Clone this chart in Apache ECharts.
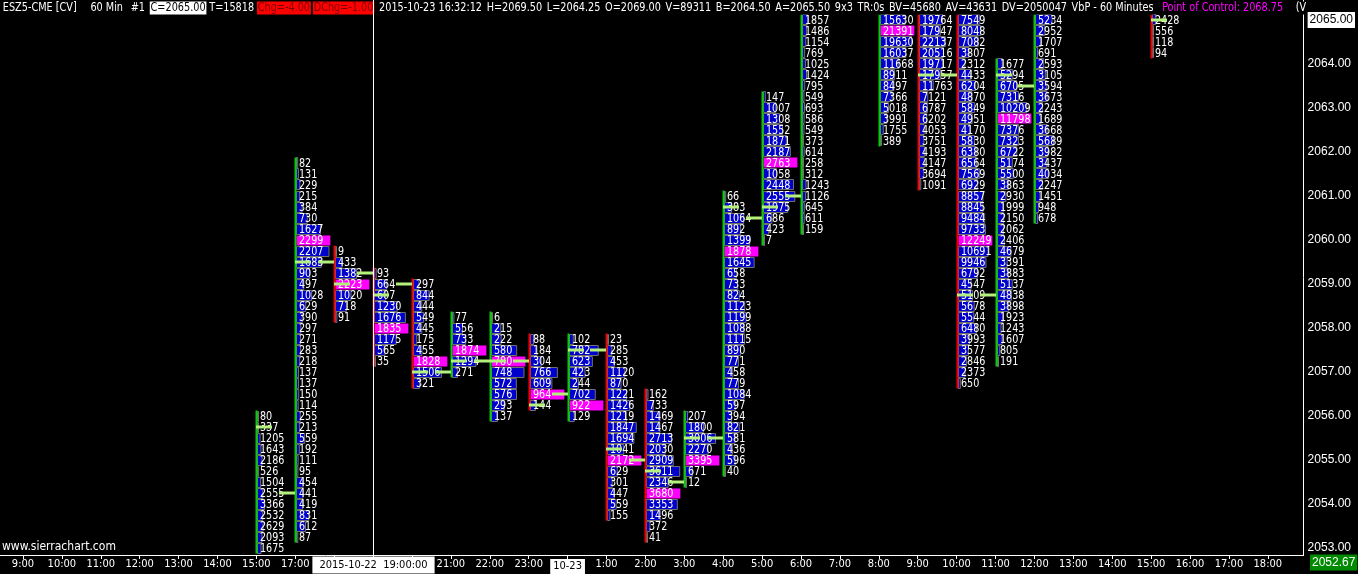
<!DOCTYPE html>
<html>
<head>
<meta charset="utf-8">
<title>ESZ5-CME VbP 60 Min</title>
<script src="https://cdn.jsdelivr.net/npm/echarts@6/dist/echarts.min.js"></script>
<style>
  html, body { margin: 0; padding: 0; background: #000; }
  #chart { width: 1358px; height: 574px; }
</style>
</head>
<body>
<div id="chart"></div>
<script>
// price step of one volume row
const TICK = 0.25

// x axis: one slot per 60 min bar
const slotLabels = ['9:00', '10:00', '11:00', '12:00', '13:00', '14:00', '15:00', '17:00', '18:00', '19:00', '20:00',
  '21:00', '22:00', '23:00', '10-23', '1:00', '2:00', '3:00', '4:00', '5:00', '6:00', '7:00', '8:00', '9:00', '10:00',
  '11:00', '12:00', '13:00', '14:00', '15:00', '16:00', '17:00', '18:00']
const priceTicks = [2053, 2054, 2055, 2056, 2057, 2058, 2059, 2060, 2061, 2062, 2063, 2064, 2065]

// volume at price, top row first
const vol15a = [80, 337, 1205, 1643, 2186, 526, 1504, 2555, 3366, 2532, 2629, 2093, 1675]
const vol17 = [82, 131, 229, 215, 384, 730, 1627, 2299, 2207, 1683, 903, 497, 1028, 629, 390, 297, 271, 283, 218, 137,
  137, 150, 114, 255, 213, 559, 192, 111, 95, 454, 441, 419, 831, 612, 87]
const vol18 = [9, 433, 1382, 2223, 1020, 718, 91]
const vol19 = [93, 664, 607, 1230, 1676, 1835, 1175, 565, 35]
const vol20 = [297, 844, 444, 549, 445, 175, 455, 1828, 1506, 321]
const vol21 = [77, 556, 733, 1874, 1294, 271]
const vol22 = [6, 215, 222, 580, 780, 748, 572, 576, 293, 137]
const vol23 = [88, 184, 304, 766, 609, 964, 144]
const vol00 = [102, 782, 623, 423, 244, 702, 922, 129]
const vol01 = [23, 285, 453, 1120, 870, 1221, 1426, 1219, 1847, 1694, 1041, 2172, 629, 301, 447, 559, 155]
const vol02 = [162, 733, 1469, 1467, 2713, 2030, 2909, 3611, 2346, 3680, 3353, 1496, 372, 41]
const vol03 = [207, 1800, 3006, 2270, 3395, 671, 12]
const vol04 = [66, 383, 1064, 892, 1399, 1878, 1645, 658, 733, 824, 1123, 1199, 1088, 1115, 890, 771, 458, 779, 1084,
  597, 394, 821, 581, 436, 596, 40]
const vol05 = [147, 1007, 1308, 1552, 1871, 2187, 2763, 1058, 2448, 2555, 1975, 686, 423, 7]
const vol06 = [1857, 1486, 1154, 769, 1025, 1424, 795, 549, 693, 586, 549, 373, 614, 258, 312, 1243, 1126, 645, 611, 159]
const vol08 = [15630, 21391, 19630, 16037, 11668, 8911, 8497, 7366, 5018, 3991, 1755, 389]
const vol09 = [19764, 17947, 22137, 20516, 19717, 17957, 11763, 7121, 6787, 6202, 4053, 3751, 4193, 4147, 3694, 1091]
const vol10 = [7549, 8048, 7082, 3807, 2312, 4433, 6204, 4870, 5849, 4951, 4170, 5830, 6380, 6564, 7569, 6929, 8857,
  8845, 9484, 9733, 12249, 10691, 9946, 6792, 4547, 5109, 5678, 5544, 6480, 3993, 3577, 2846, 2373, 650]
const vol11 = [1677, 5294, 6705, 7316, 10209, 11798, 7376, 7323, 6722, 5174, 5500, 3863, 2930, 1999, 2150, 2062, 2406,
  4679, 3391, 3883, 5137, 4838, 3898, 1923, 1243, 1607, 805, 191]
const vol12 = [5234, 2952, 1707, 691, 2593, 3105, 3594, 3673, 2243, 1689, 3668, 5689, 3982, 3437, 4034, 2247, 1451, 948, 678]
const vol15b = [2428, 556, 118, 94]

const colVols = [vol15a, vol17, vol18, vol19, vol20, vol21, vol22, vol23, vol00, vol01, vol02, vol03, vol04, vol05,
  vol06, vol08, vol09, vol10, vol11, vol12, vol15b]
const colSlot = [6, 7, 8, 9, 10, 11, 12, 13, 14, 15, 16, 17, 18, 19, 20, 22, 23, 24, 25, 26, 29]
// price of the first (top) row shown
const colTop = [2056, 2061.75, 2059.75, 2059.25, 2059, 2058.25, 2058.25, 2057.75, 2057.75, 2057.75, 2056.5, 2056,
  2061, 2063.25, 2065, 2065, 2065, 2065, 2064, 2065, 2065]
// point of control volume of each bar (estimated where it is above/below the visible range)
const colPoc = [16000, 2299, 2223, 1835, 1828, 1874, 780, 964, 922, 2172, 3680, 3395, 1878, 2763, 12000, 21391,
  29000, 12249, 11798, 10700, 25000]
const colOpen = [null, 2054.25, 2059.5, 2059.25, 2059, 2057, 2057.25, 2057.25, 2056.5, 2057.5, 2055, 2054.5, 2055.5,
  2060.5, 2061, null, null, 2063.75, 2058.75, 2063.5, null]
const colClose = [2055.75, 2059.5, 2059, 2058.75, 2057, 2057.25, 2057.25, 2056.25, 2057.5, 2055.25, 2054.75, 2055.5,
  2060.75, 2060.75, null, null, 2063.75, 2058.75, 2063.75, null, 2065]
const colUp = [true, true, false, false, false, true, true, false, true, false, false, true, true, true, true, true,
  false, false, true, true, false]

const cursorSlot = 9
const cursorTime = '2015-10-22  19:00:00'
const cursorPrice = 2052.67

// header text pieces: text, colour, box colour, gap after
const headText = ['ESZ5-CME [CV]', '60 Min', '#1', 'C=2065.00', 'T=15818', 'Chg=-4.00', 'DChg=-1.00',
  '2015-10-23 16:32:12', 'H=2069.50', 'L=2064.25', 'O=2069.00', 'V=89311', 'B=2064.50', 'A=2065.50', '9x3', 'TR:0s',
  'BV=45680', 'AV=43631', 'DV=2050047', 'VbP - 60 Minutes', 'Point of Control: 2068.75', '(V']
const headColor = ['#fff', '#fff', '#fff', '#000', '#fff', '#800000', '#800000', '#fff', '#fff', '#fff', '#fff', '#fff',
  '#fff', '#fff', '#fff', '#fff', '#fff', '#fff', '#fff', '#fff', '#ff00ff', '#fff']
const headBox = [null, null, null, '#fff', null, '#ff0000', '#ff0000', null, null, null, null, null, null, null, null,
  null, null, null, null, null, null, null]
const headGap = [12, 6, 4, 2, 2, 2, 4, 3, 3, 3, 3, 3, 3, 3, 3, 3, 3, 3, 3, 7, 11, 0]

const FONT = '"DejaVu Sans Condensed", "Liberation Sans Narrow", sans-serif'

let cells = []
let candles = []
let ticks = []
colVols.forEach((vols, c) => {
  vols.forEach((v, i) => {
    cells.push([colSlot[c], colTop[c] - i * TICK, v, colPoc[c]])
  })
  candles.push([colSlot[c], colTop[c], colTop[c] - (vols.length - 1) * TICK, colUp[c] ? 1 : 0])
  if (colOpen[c] != null) ticks.push([colSlot[c], colOpen[c], -1])
  if (colClose[c] != null) ticks.push([colSlot[c], colClose[c], 1])
})

function renderCell(params, api) {
  const p = api.coord([api.value(0), api.value(1)])
  const sz = api.size([1, TICK])
  const full = sz[0] * 0.87
  const vol = api.value(2)
  const poc = api.value(3)
  const isPoc = vol >= poc
  const x = Math.round(p[0]) + 1.5
  const y = Math.round(p[1] - sz[1] / 2) + 0.5
  return {
    type: 'group',
    children: [
      {
        type: 'rect',
        shape: { x: x, y: y, width: isPoc ? full : Math.max(1, full * vol / poc), height: Math.round(sz[1]) - 1 },
        style: isPoc ? { fill: '#ff00ff' } : { fill: '#0000cd', stroke: '#707070', lineWidth: 1 }
      },
      {
        type: 'text',
        x: x + 2.5,
        y: p[1] + 0.5,
        scaleX: 0.82,
        style: { text: String(vol), fill: '#fff', font: '13px ' + FONT, align: 'left', verticalAlign: 'middle' }
      }
    ]
  }
}

function renderCandle(params, api) {
  const hi = api.coord([api.value(0), api.value(1) + TICK / 2])
  const lo = api.coord([api.value(0), api.value(2) - TICK / 2])
  const x = Math.round(hi[0]) + 0.5
  return {
    type: 'line',
    shape: { x1: x, y1: hi[1], x2: x, y2: lo[1] },
    style: { stroke: api.value(3) ? '#00d000' : '#f00000', lineWidth: 2 }
  }
}

function renderTick(params, api) {
  const p = api.coord([api.value(0), api.value(1)])
  const x = Math.round(p[0])
  const side = api.value(2)
  return {
    type: 'line',
    shape: { x1: side < 0 ? x - 16 : x, y1: p[1], x2: side < 0 ? x : x + 16, y2: p[1] },
    style: { stroke: '#b4f07c', lineWidth: 3 }
  }
}

const chart = echarts.init(document.getElementById('chart'))
chart.setOption({
  backgroundColor: '#000',
  animation: false,
  grid: { left: 0, right: 51, top: 0, bottom: 19 },
  xAxis: {
    type: 'value',
    min: -0.59,
    max: 32.92,
    axisLine: { onZero: false, lineStyle: { color: '#fff', width: 1 } },
    splitLine: { show: false },
    axisTick: { customValues: slotLabels.map((s, i) => i), length: 4, lineStyle: { color: '#fff' } },
    axisLabel: {
      customValues: slotLabels.map((s, i) => i),
      formatter: v => slotLabels[v] === '10-23' ? '{day|10-23}' : slotLabels[v],
      color: '#fff',
      fontFamily: FONT,
      fontSize: 11,
      margin: 4,
      rich: { day: { backgroundColor: '#fff', color: '#000', padding: [2, 3], fontFamily: FONT, fontSize: 11 } }
    }
  },
  yAxis: {
    type: 'value',
    position: 'right',
    min: 2052.841,
    max: 2065.4545,
    axisLine: { show: true, onZero: false, lineStyle: { color: '#fff', width: 1 } },
    splitLine: { show: false },
    axisTick: { show: false },
    axisLabel: {
      customValues: priceTicks,
      formatter: v => v === 2065 ? '{hl|2065.00}' : v.toFixed(2),
      color: '#fff',
      fontFamily: '"Liberation Sans", Arial, sans-serif',
      fontSize: 12,
      margin: 4,
      rich: { hl: { backgroundColor: '#fff', color: '#000', padding: [2, 2], fontSize: 12 } }
    }
  },
  series: [
    { type: 'custom', name: 'volume', renderItem: renderCell, data: cells, clip: true, z: 2 },
    { type: 'custom', name: 'range', renderItem: renderCandle, data: candles, clip: true, z: 3 },
    { type: 'custom', name: 'open/close', renderItem: renderTick, data: ticks, clip: true, z: 4 }
  ]
})

// header line, laid out left to right and squeezed to fit before the price scale
const headFont = '13px ' + FONT
const meas = document.createElement('canvas').getContext('2d')
meas.font = headFont
const headW = headText.map(t => meas.measureText(t).width + 2)
const gapSum = headGap.reduce((a, b) => a + b, 0)
const squeeze = Math.min(1, (1307 - 2 - gapSum) / headW.reduce((a, b) => a + b, 0))
let hx = 2
const header = headText.map((t, i) => {
  const el = {
    type: 'text', x: hx, y: 8, z: 10, scaleX: squeeze,
    style: { text: t, fill: headColor[i], font: headFont, verticalAlign: 'middle',
      backgroundColor: headBox[i] || '#000', padding: [0, 1] }
  }
  hx += headW[i] * squeeze + headGap[i]
  return el
})

const cx = Math.round(chart.convertToPixel({ xAxisIndex: 0 }, cursorSlot)) + 0.5
const cy = chart.convertToPixel({ yAxisIndex: 0 }, cursorPrice)
chart.setOption({
  graphic: header.concat([
    {
      type: 'line', z: 11,
      shape: { x1: cx, y1: 0, x2: cx, y2: 555 },
      style: { stroke: '#fff', lineWidth: 1 }
    },
    {
      type: 'text', x: cx, y: 565, z: 12,
      style: { text: cursorTime, fill: '#000', font: '11px ' + FONT, align: 'center', verticalAlign: 'middle',
        backgroundColor: '#fff', padding: [3, 7] }
    },
    {
      type: 'text', x: 1310, y: Math.min(cy, 565), z: 12,
      style: { text: cursorPrice.toFixed(2), fill: '#fff', font: '12px "Liberation Sans", Arial, sans-serif',
        verticalAlign: 'middle', backgroundColor: '#008a00', padding: [2, 2] }
    },
    {
      type: 'text', x: 2, y: 547, z: 10,
      style: { text: 'www.sierrachart.com', fill: '#fff', font: '12px ' + FONT, verticalAlign: 'middle' }
    }
  ])
})
</script>
</body>
</html>
